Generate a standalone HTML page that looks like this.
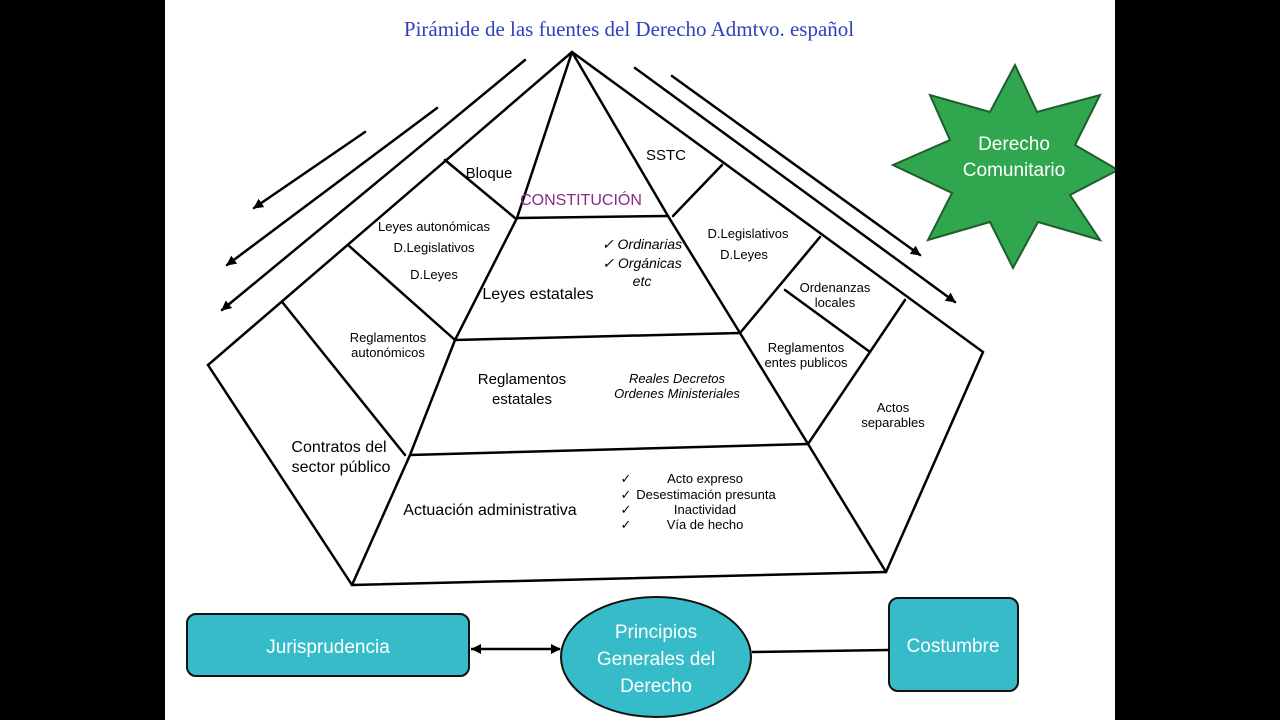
<!DOCTYPE html>
<html><head><meta charset="utf-8"><style>
html,body{margin:0;padding:0;background:#000;}
svg{display:block;}
text{font-family:"Liberation Sans",sans-serif;}
</style></head><body>
<svg width="1280" height="720" viewBox="0 0 1280 720" xmlns="http://www.w3.org/2000/svg">
<defs>
<marker id="ah" markerWidth="10" markerHeight="10" refX="9" refY="5" orient="auto" markerUnits="userSpaceOnUse">
<path d="M0,0 L10,5 L0,10 Z" fill="#000"/></marker>
<marker id="ahs" markerWidth="10" markerHeight="10" refX="0" refY="5" orient="auto" markerUnits="userSpaceOnUse">
<path d="M10,0 L0,5 L10,10 Z" fill="#000"/></marker>
</defs>
<rect x="165" y="0" width="950" height="720" fill="#fff"/>
<text x="629" y="36" text-anchor="middle" font-size="21" fill="#2f3fbf" style="font-family:'Liberation Serif',serif">Pirámide de las fuentes del Derecho Admtvo. español</text>

<g stroke="#000" stroke-width="2.5" fill="none" stroke-linecap="round">
<!-- inner pyramid -->
<polyline points="572,52 517,218 455,340 410,455 352,585"/>
<polyline points="572,52 668,216 740,333 808,444 886,572"/>
<line x1="517" y1="218" x2="668" y2="216"/>
<line x1="455" y1="340" x2="740" y2="333"/>
<line x1="410" y1="455" x2="808" y2="444"/>
<line x1="352" y1="585" x2="886" y2="572"/>
<!-- outer -->
<polyline points="572,52 208,365 352,585"/>
<polyline points="572,52 983,352 886,572"/>
<line x1="445" y1="160" x2="515" y2="218"/>
<line x1="348" y1="245" x2="455" y2="340"/>
<line x1="283" y1="303" x2="405" y2="455"/>
<line x1="722" y1="165" x2="673" y2="216"/>
<line x1="820" y1="237" x2="740" y2="333"/>
<line x1="785" y1="290" x2="870" y2="352"/>
<line x1="905" y1="300" x2="808" y2="444"/>
<!-- arrows -->
<line x1="525" y1="60" x2="222" y2="310" marker-end="url(#ah)"/>
<line x1="437" y1="108" x2="227" y2="265" marker-end="url(#ah)"/>
<line x1="365" y1="132" x2="254" y2="208" marker-end="url(#ah)"/>
<line x1="635" y1="68" x2="955" y2="302" marker-end="url(#ah)"/>
<line x1="672" y1="76" x2="920" y2="255" marker-end="url(#ah)"/>
</g>

<g font-size="13" fill="#000" text-anchor="middle">
<text x="489" y="178" font-size="15">Bloque</text>
<text x="666" y="160" font-size="15">SSTC</text>
<text x="581" y="205" font-size="16" fill="#8a2a8a">CONSTITUCIÓN</text>
<text x="434" y="231">Leyes autonómicas</text>
<text x="434" y="252">D.Legislativos</text>
<text x="434" y="279">D.Leyes</text>
<text x="538" y="299" font-size="16">Leyes estatales</text>
<text x="642" y="249" font-style="italic" font-size="14">✓ Ordinarias</text>
<text x="642" y="268" font-style="italic" font-size="14">✓ Orgánicas</text>
<text x="642" y="286" font-style="italic" font-size="14">etc</text>
<text x="748" y="238">D.Legislativos</text>
<text x="744" y="259">D.Leyes</text>
<text x="835" y="292">Ordenanzas</text>
<text x="835" y="307">locales</text>
<text x="806" y="352">Reglamentos</text>
<text x="806" y="367">entes publicos</text>
<text x="388" y="342">Reglamentos</text>
<text x="388" y="357">autonómicos</text>
<text x="522" y="384" font-size="15">Reglamentos</text>
<text x="522" y="404" font-size="15">estatales</text>
<text x="677" y="383" font-style="italic">Reales Decretos</text>
<text x="677" y="398" font-style="italic">Ordenes Ministeriales</text>
<text x="893" y="412">Actos</text>
<text x="893" y="427">separables</text>
<text x="339" y="452" font-size="16">Contratos del</text>
<text x="341" y="472" font-size="16">sector público</text>
<text x="490" y="515" font-size="16">Actuación administrativa</text>
<text x="705" y="483">Acto expreso</text>
<text x="706" y="499">Desestimación presunta</text>
<text x="705" y="514">Inactividad</text>
<text x="705" y="529">Vía de hecho</text>
<text x="626" y="483">✓</text>
<text x="626" y="499">✓</text>
<text x="626" y="514">✓</text>
<text x="626" y="529">✓</text>
</g>

<!-- star -->
<polygon points="1015,65 1037,112 1100,95 1075,145 1118,170 1070,195 1100,240 1038,222 1013,268 990,222 928,240 952,193 893,165 950,140 930,95 990,112" fill="#30a64e" stroke="#1d5e2c" stroke-width="2"/>
<text x="1014" y="150" text-anchor="middle" font-size="19" fill="#fff">Derecho</text>
<text x="1014" y="176" text-anchor="middle" font-size="19" fill="#fff">Comunitario</text>

<!-- bottom -->
<rect x="187" y="614" width="282" height="62" rx="9" fill="#35bcc8" stroke="#111" stroke-width="2"/>
<text x="328" y="653" text-anchor="middle" font-size="19" fill="#fff">Jurisprudencia</text>
<ellipse cx="656" cy="657" rx="95" ry="60" fill="#35bcc8" stroke="#111" stroke-width="2"/>
<text x="656" y="638" text-anchor="middle" font-size="19" fill="#fff">Principios</text>
<text x="656" y="665" text-anchor="middle" font-size="19" fill="#fff">Generales del</text>
<text x="656" y="692" text-anchor="middle" font-size="19" fill="#fff">Derecho</text>
<rect x="889" y="598" width="129" height="93" rx="9" fill="#35bcc8" stroke="#111" stroke-width="2"/>
<text x="953" y="652" text-anchor="middle" font-size="19" fill="#fff">Costumbre</text>
<line x1="471" y1="649" x2="560" y2="649" stroke="#000" stroke-width="2.5" marker-start="url(#ahs)" marker-end="url(#ah)"/>
<line x1="752" y1="652" x2="889" y2="650" stroke="#000" stroke-width="2.5"/>

<rect x="1115" y="0" width="165" height="720" fill="#000"/>
<rect x="0" y="0" width="165" height="720" fill="#000"/>
</svg>
</body></html>
